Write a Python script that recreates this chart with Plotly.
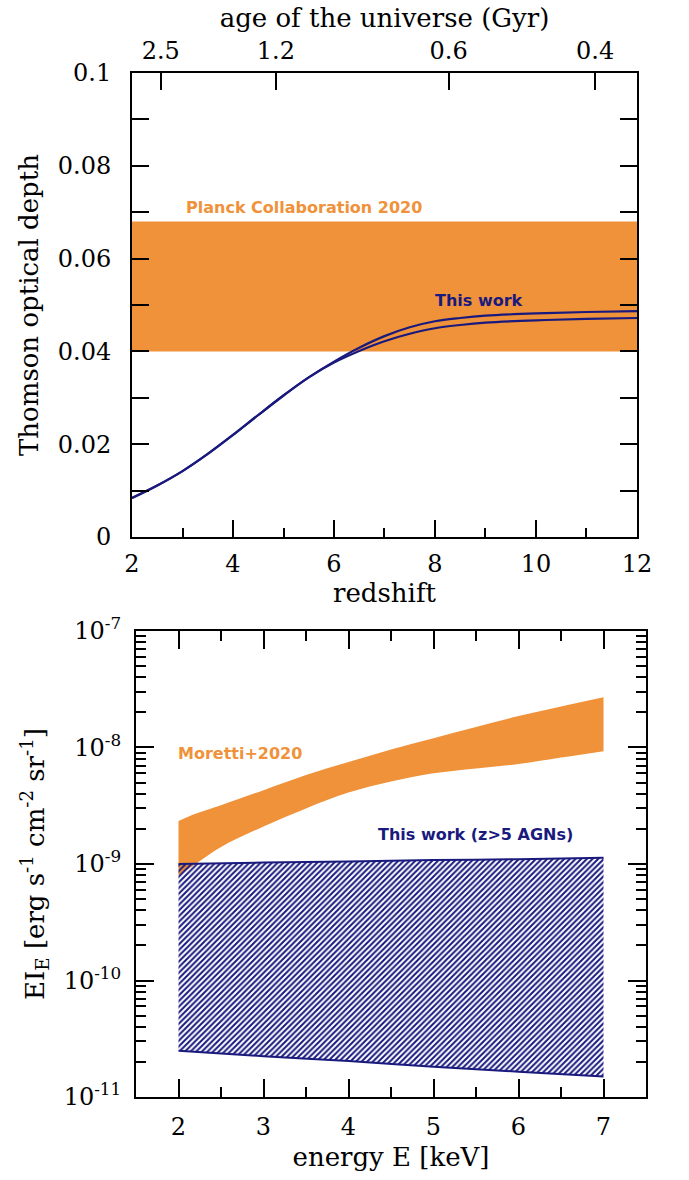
import plotly.graph_objects as go

# ---------------- data: top panel ----------------
z_grid = [2, 2.5, 3, 3.5, 4, 4.5, 5, 5.5, 6, 6.5, 7, 7.5, 8, 8.5, 9, 10, 11, 12]
tau_hi = [0.0084, 0.0111, 0.0142, 0.0179, 0.0220, 0.0263, 0.0305, 0.0344, 0.0378,
          0.0408, 0.0433, 0.0452, 0.0465, 0.0472, 0.0477, 0.0482, 0.0485, 0.0487]
tau_lo = [0.0084, 0.0111, 0.0142, 0.0179, 0.0220, 0.0263, 0.0305, 0.0344, 0.0376,
          0.0401, 0.0422, 0.0438, 0.0450, 0.0457, 0.0462, 0.0467, 0.0470, 0.0472]
planck_x = [2, 12]
planck_lo = 0.040
planck_hi = 0.068
age_labels = ["2.5", "1.2", "0.6", "0.4"]
age_z = [2.57, 4.85, 8.27, 11.17]

# ---------------- data: bottom panel ----------------
E_mor = [2.0, 2.2, 2.5, 3.0, 3.5, 4.0, 4.5, 5.0, 5.5, 6.0, 6.5, 7.0]
mor_hi = [2.34e-9, 2.7e-9, 3.2e-9, 4.3e-9, 5.8e-9, 7.5e-9, 9.6e-9, 1.2e-8, 1.5e-8, 1.86e-8, 2.25e-8, 2.7e-8]
mor_lo = [0.80e-9, 1.0e-9, 1.4e-9, 2.1e-9, 3.0e-9, 4.1e-9, 5.1e-9, 6.0e-9, 6.6e-9, 7.2e-9, 8.2e-9, 9.3e-9]
E_tw = [2, 3, 4, 5, 6, 7]
tw_hi = [1.00e-9, 1.03e-9, 1.05e-9, 1.08e-9, 1.10e-9, 1.13e-9]
tw_lo = [2.5e-11, 2.24e-11, 2.04e-11, 1.82e-11, 1.65e-11, 1.5e-11]
ytick_vals = [1e-11, 1e-10, 1e-9, 1e-8, 1e-7]
ytick_text = ["10<sup>-11</sup>", "10<sup>-10</sup>", "10<sup>-9</sup>", "10<sup>-8</sup>", "10<sup>-7</sup>"]

ORANGE = "#F0923A"
NAVY = "#1a1a7e"
SERIF = "DejaVu Serif"
SANS = "DejaVu Sans"

fig = go.Figure()

# top panel
fig.add_trace(go.Scatter(x=planck_x, y=[planck_lo] * 2, mode="lines", line=dict(width=0, color=ORANGE),
                         showlegend=False, hoverinfo="skip", xaxis="x", yaxis="y"))
fig.add_trace(go.Scatter(x=planck_x, y=[planck_hi] * 2, mode="lines", line=dict(width=0, color=ORANGE),
                         fill="tonexty", fillcolor=ORANGE, showlegend=False, hoverinfo="skip",
                         xaxis="x", yaxis="y"))
fig.add_trace(go.Scatter(x=z_grid, y=tau_hi, mode="lines", line=dict(color=NAVY, width=2.2, shape="spline"),
                         showlegend=False, xaxis="x", yaxis="y"))
fig.add_trace(go.Scatter(x=z_grid, y=tau_lo, mode="lines", line=dict(color=NAVY, width=2.2, shape="spline"),
                         showlegend=False, xaxis="x", yaxis="y"))
# invisible trace that carries the age axis
fig.add_trace(go.Scatter(x=age_z, y=[0.05] * len(age_z), mode="markers", marker=dict(opacity=0),
                         showlegend=False, hoverinfo="skip", xaxis="x3", yaxis="y"))

# bottom panel
fig.add_trace(go.Scatter(x=E_mor, y=mor_lo, mode="lines", line=dict(width=0, color=ORANGE, shape="spline"),
                         showlegend=False, hoverinfo="skip", xaxis="x2", yaxis="y2"))
fig.add_trace(go.Scatter(x=E_mor, y=mor_hi, mode="lines", line=dict(width=0, color=ORANGE, shape="spline"),
                         fill="tonexty", fillcolor=ORANGE, showlegend=False, xaxis="x2", yaxis="y2"))
fig.add_trace(go.Scatter(x=E_tw, y=tw_lo, mode="lines", line=dict(width=2, color=NAVY, shape="spline"),
                         showlegend=False, xaxis="x2", yaxis="y2"))
fig.add_trace(go.Scatter(x=E_tw, y=tw_hi, mode="lines", line=dict(width=2, color=NAVY, shape="spline"),
                         fill="tonexty", fillcolor="rgba(255,255,255,0)",
                         fillpattern=dict(shape="/", fgcolor=NAVY, bgcolor="rgba(255,255,255,0)",
                                          fgopacity=1, size=4, solidity=0.5),
                         showlegend=False, xaxis="x2", yaxis="y2"))

tickfont = dict(family=SERIF, size=24, color="black")
titlefont = dict(family=SERIF, size=26, color="black")
common = dict(showline=True, linecolor="black", linewidth=2, ticks="inside", tickcolor="black",
              tickwidth=2, showgrid=False, zeroline=False, tickfont=tickfont, automargin=False)

fig.update_layout(
    width=689, height=1180,
    margin=dict(l=0, r=0, t=0, b=0),
    paper_bgcolor="white", plot_bgcolor="white",
    xaxis=dict(domain=[0.1916, 0.9245], anchor="y", range=[2, 12], tick0=2, dtick=2, ticklen=17,
               ticklabelstandoff=4,
               mirror=True, minor=dict(dtick=1, ticks="inside", ticklen=9, tickwidth=2, tickcolor="black"),
               title=dict(text="redshift", font=titlefont, standoff=6), **common),
    yaxis=dict(domain=[0.5449, 0.9381], anchor="x", range=[0, 0.1], ticklen=17,
               tickvals=[0, 0.02, 0.04, 0.06, 0.08, 0.1], ticktext=["0", "0.02", "0.04", "0.06", "0.08", "0.1"],
               ticklabelstandoff=14,
               mirror="allticks", minor=dict(dtick=0.01, ticks="inside", ticklen=9, tickwidth=2, tickcolor="black"),
               title=dict(text="Thomson optical depth", font=titlefont, standoff=12), **common),
    xaxis3=dict(overlaying="x", side="top", anchor="y", range=[2, 12], tickvals=age_z, ticktext=age_labels,
                ticks="inside", ticklen=17, tickwidth=2, tickcolor="black", showline=False, showgrid=False,
                zeroline=False, tickfont=tickfont, automargin=False, ticklabelstandoff=8,
                title=dict(text="age of the universe (Gyr)", font=titlefont, standoff=2)),
    xaxis2=dict(domain=[0.1974, 0.9376], anchor="y2", range=[1.5, 7.5], tick0=1, dtick=1, ticklen=18,
                ticklabelstandoff=7,
                mirror="allticks", minor=dict(dtick=0.5, tick0=0, ticks="inside", ticklen=10, tickwidth=2, tickcolor="black"),
                title=dict(text="energy E [keV]", font=titlefont, standoff=8), **common),
    yaxis2=dict(domain=[0.0703, 0.4653], anchor="x2", type="log", range=[-11, -7], tickvals=ytick_vals,
                ticktext=ytick_text, ticklen=18, mirror="allticks", ticklabelstandoff=8,
                minor=dict(tickvals=[m * 10 ** d for d in range(-11, -7) for m in range(2, 10)],
                           ticks="inside", ticklen=10, tickwidth=2, tickcolor="black"),
                title=dict(text="EI<sub>E</sub> [erg s<sup>-1</sup> cm<sup>-2</sup> sr<sup>-1</sup>]",
                           font=titlefont, standoff=12), **common),
    annotations=[
        dict(text="<b>Planck Collaboration 2020</b>", x=5.4, y=0.0711, xref="x", yref="y", showarrow=False,
             font=dict(family=SANS, size=16, color=ORANGE)),
        dict(text="<b>This work</b>", x=8.87, y=0.0509, xref="x", yref="y", showarrow=False,
             font=dict(family=SANS, size=16, color=NAVY)),
        dict(text="<b>Moretti+2020</b>", x=2.72, y=-8.048, xref="x2", yref="y2", showarrow=False,
             font=dict(family=SANS, size=16, color=ORANGE)),
        dict(text="<b>This work (z>5 AGNs)</b>", x=5.49, y=-8.746, xref="x2", yref="y2", showarrow=False,
             font=dict(family=SANS, size=16, color=NAVY)),
    ],
)

fig.write_html("out.html")
